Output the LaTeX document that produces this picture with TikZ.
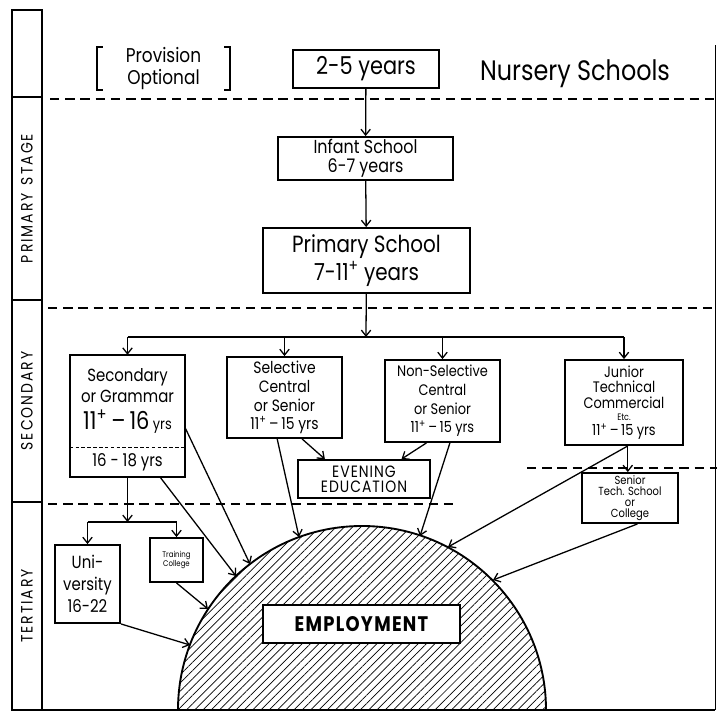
\documentclass[tikz,border=0pt]{standalone}
\usepackage{fontspec}
\setmainfont{Poppins}[FakeStretch=0.85]
\usetikzlibrary{arrows.meta,patterns.meta}
\newcommand{\lsize}[2]{\fontsize{#1}{#2}\selectfont}

\tikzset{
  box/.style={draw, line width=1.6pt, align=center, inner sep=0pt},
  sz/.style 2 args={minimum width=#1*0.03cm, minimum height=#2*0.03cm},
  link/.style={line width=1.1pt, -{Straight Barb[length=5pt,width=8pt]}},
  plain/.style={line width=1.1pt},
  stagebox/.style={draw, line width=2pt, rotate=90, inner sep=0pt, minimum height=30*0.03cm,
    font=\lsize{14}{14}\addfontfeature{LetterSpace=12}},
  divider/.style={line width=1.6pt, dash pattern=on 8pt off 5pt},
}

\begin{document}
\begin{tikzpicture}[x=0.03cm, y=-0.03cm]
\useasboundingbox (0,0) rectangle (717,714);

% stage column
\node[stagebox, minimum width=87*0.03cm] (sTop) at (27,53.5) {};
\node[stagebox, minimum width=203*0.03cm] (sPrim) at (27,198.5) {PRIMARY\enspace STAGE};
\node[stagebox, minimum width=202*0.03cm] (sSec) at (27,401) {SECONDARY};
\node[stagebox, minimum width=208*0.03cm] (sTer) at (27,606) {TERTIARY};

% frame
\coordinate (frameSW) at (12,710);
\coordinate (frameSE) at (715,710);
\coordinate (frameNE) at (715,45);
\draw[line width=2pt] (frameSW) -- (frameSE);
\draw[line width=0.6pt] (frameNE) -- (frameSE);

% stage dividers
\draw[divider] (50,99) -- (717,99);
\draw[divider] (48,308) -- (717,308);
\draw[divider] (48,504) -- (455,504);
\draw[divider] (527,468) -- (717,468);

% nursery and primary
\node[sz={133}{43}, align=center, inner sep=0pt, font=\lsize{17}{18}] (prov) at (163.5,68.5) {Provision\\Optional};
\draw[line width=1.4pt] (prov.north west) ++(6,0) -- (prov.north west) -- (prov.south west) -- ++(6,0);
\draw[line width=1.4pt] (prov.north east) ++(-6,0) -- (prov.north east) -- (prov.south east) -- ++(-6,0);
\node[box, sz={146}{38}, font=\lsize{21}{21}] (nursery) at (366,69) {2-5 years};
\node[anchor=west, font=\lsize{24}{24}] (nurseryLbl) at (476,74) {Nursery Schools};
\node[box, sz={175}{43}, font=\lsize{16}{16}] (infant) at (365.5,158.5) {Infant School\\6-7 years};
\node[box, sz={207}{65}, font=\lsize{20}{24}] (primary) at (366.5,260.5) {Primary School\\7-11\textsuperscript{+} years};

\coordinate (fork) at (366,337);
\draw[link] (nursery) -- (infant);
\draw[link] (infant) -- (primary);
\draw[link] (primary) -- (fork);

% secondary
\node[sz={115}{92}, align=center, inner sep=0pt, font=\lsize{15}{18}] (gram) at (127.5,401) {Secondary\\or Grammar\\[5pt]{\lsize{21}{21}11\textsuperscript{+}\,--\,16}{\lsize{13}{13} yrs}};
\node[sz={115}{30}, inner sep=0pt, font=\lsize{15}{15}] (gramLow) at (127.5,462) {16 - 18 yrs};
\draw[line width=1.6pt] (gram.north west) rectangle (gramLow.south east);
\draw[line width=1.1pt, dash pattern=on 3pt off 2pt] (gram.south west) -- (gram.south east);
\node[box, sz={115}{81}, font=\lsize{14}{16}] (sel) at (284.5,397.5) {Selective\\Central\\or Senior\\11\textsuperscript{+}\,--\,15 yrs};
\node[box, sz={115}{82}, font=\lsize{13}{16}] (nonsel) at (442.5,401) {Non-Selective\\Central\\or Senior\\11\textsuperscript{+}\,--\,15 yrs};
\node[box, sz={118}{85}, font=\lsize{13}{13.5}] (junior) at (624,402.5) {Junior\\Technical\\Commercial\\[-3pt]{\lsize{8}{8}Etc.}\\[-1pt]11\textsuperscript{+}\,--\,15 yrs};

\draw[plain] (fork -| gram.north) -- (fork -| junior.north);
\draw[link] (fork -| gram.north) -- (gram.north);
\draw[link] (fork -| sel.north) -- (sel.north);
\draw[link] (fork -| nonsel.north) -- (nonsel.north);
\draw[link] (fork -| junior.north) -- (junior.north);

\node[box, sz={132}{38}, font=\lsize{14}{13}\addfontfeature{LetterSpace=6}] (evening) at (364,479) {EVENING\\EDUCATION};
\node[box, sz={96}{50}, font=\lsize{10}{9.5}] (senior) at (630,498) {Senior\\Tech. School\\or\\College};

% tertiary
\node[box, sz={65}{78}, font=\lsize{15}{19}] (univ) at (87.5,584) {Uni-\\versity\\16-22};
\node[box, sz={53}{44}, font=\lsize{7}{8}] (train) at (176.5,560) {Training\\College};

\coordinate (split) at (128,522);
\draw[link] (gramLow.south) -- (gramLow.south |- split);
\draw[plain] (split -| univ.north) -- (split -| train.north);
\draw[link] (split -| univ.north) -- (univ.north);
\draw[link] (split -| train.north) -- (train.north);

% employment
\coordinate (base) at (362,710);
\draw[line width=1.6pt, pattern={Lines[angle=45,distance=5pt,line width=0.6pt]}]
  ([xshift=-5.52cm]base) arc[start angle=180, end angle=0, radius=5.52cm] -- cycle;
\node[box, fill=white, sz={197}{38}, font=\lsize{18}{18}\bfseries\addfontfeature{LetterSpace=6}] (employ) at (361.5,624) {EMPLOYMENT};

\coordinate (eGramA) at (250,564);
\coordinate (eGramB) at (236,576);
\coordinate (eTrain) at (208,609);
\coordinate (eUniv) at (190,645);
\coordinate (eSel) at (299,537);
\coordinate (eNon) at (420,536);
\coordinate (eJun) at (448,547);
\coordinate (eSen) at (493,580);

\draw[link] (gram.-25) -- (eGramA);
\draw[link] (gramLow.-25) -- (eGramB);
\draw[link] (train.south) -- (eTrain);
\draw[link] (univ.south east) -- (eUniv);
\draw[link] (sel.-100) -- (eSel);
\draw[link] (sel.-67) -- (evening.153);
\draw[link] (nonsel.-111) -- (evening.28);
\draw[link] (nonsel.-80) -- (eNon);
\draw[link] (junior.-85) -- (eJun);
\draw[link] (junior.-85) -- (junior.-85 |- senior.north);
\draw[link] (senior.-74) -- (eSen);
\end{tikzpicture}
\end{document}
